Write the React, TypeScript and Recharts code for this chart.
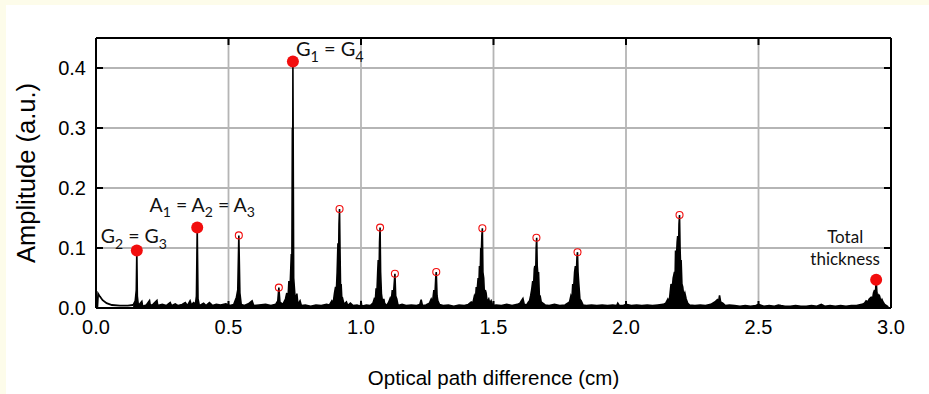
import React from 'react';
import { ComposedChart, Area, Line, Scatter, XAxis, YAxis, CartesianGrid } from 'recharts';

// ---------- data ----------
const xTicks = [0, 0.5, 1.0, 1.5, 2.0, 2.5, 3.0];
const yTicks = [0, 0.1, 0.2, 0.3, 0.4];

// spectrum: [optical path difference (cm), amplitude (a.u.)]
const traceStart: number[][] = [
  [0.005, 0.0], [0.008, 0.024], [0.015, 0.019], [0.025, 0.013], [0.04, 0.008], [0.06, 0.005],
  [0.09, 0.004], [0.12, 0.004], [0.14, 0.005],
];

const traceLow: number[][] = [
  [0.14, 0.005], [0.148, 0.012], [0.152, 0.03], [0.154, 0.096],
  [0.156, 0.02], [0.16, 0.004], [0.173, 0.011], [0.176, 0.003], [0.19, 0.005], [0.202, 0.0125],
  [0.205, 0.004], [0.215, 0.006], [0.23, 0.0125], [0.233, 0.004], [0.25, 0.006], [0.265, 0.004],
  [0.28, 0.009], [0.285, 0.004], [0.299, 0.007], [0.31, 0.004], [0.325, 0.006], [0.337, 0.009],
  [0.345, 0.004], [0.355, 0.012], [0.36, 0.005], [0.368, 0.009], [0.375, 0.006], [0.379, 0.02],
  [0.382, 0.134], [0.385, 0.015], [0.39, 0.004], [0.406, 0.008], [0.415, 0.004], [0.428, 0.009],
  [0.44, 0.004], [0.454, 0.006], [0.47, 0.005], [0.49, 0.007], [0.505, 0.004], [0.52, 0.006],
  [0.53, 0.018], [0.535, 0.03], [0.539, 0.121], [0.543, 0.025], [0.548, 0.006], [0.56, 0.004],
  [0.575, 0.007], [0.589, 0.012], [0.595, 0.004], [0.615, 0.005], [0.64, 0.006], [0.66, 0.004],
  [0.678, 0.006], [0.686, 0.012], [0.69, 0.034], [0.694, 0.01], [0.705, 0.006], [0.715, 0.015],
  [0.72, 0.025], [0.724, 0.012], [0.728, 0.045], [0.732, 0.03], [0.737, 0.09], [0.739, 0.06],
  [0.741, 0.3], [0.742, 0.15], [0.743, 0.411], [0.744, 0.29], [0.746, 0.05], [0.75, 0.025],
  [0.754, 0.01], [0.758, 0.024], [0.762, 0.006], [0.77, 0.012], [0.775, 0.004],
];

const traceMid: number[][] = [
  [0.79, 0.005], [0.81, 0.003], [0.83, 0.005], [0.85, 0.004], [0.87, 0.006], [0.881, 0.005],
  [0.89, 0.012], [0.895, 0.008], [0.9, 0.025], [0.904, 0.035], [0.907, 0.028], [0.91, 0.06],
  [0.913, 0.108], [0.915, 0.07], [0.917, 0.14], [0.919, 0.165], [0.921, 0.09], [0.923, 0.03],
  [0.925, 0.04], [0.928, 0.012], [0.931, 0.015], [0.936, 0.006], [0.945, 0.01], [0.95, 0.004],
  [0.96, 0.008], [0.97, 0.004], [0.985, 0.005], [0.998, 0.003], [1.0, 0.012], [1.003, 0.003],
  [1.02, 0.005], [1.035, 0.004], [1.045, 0.008], [1.05, 0.015], [1.054, 0.012], [1.057, 0.033],
  [1.06, 0.025], [1.063, 0.06], [1.065, 0.08], [1.068, 0.05], [1.07, 0.11], [1.072, 0.134],
  [1.074, 0.06], [1.077, 0.024], [1.082, 0.008], [1.086, 0.015], [1.089, 0.008], [1.097, 0.004],
  [1.105, 0.01], [1.11, 0.016], [1.114, 0.01], [1.118, 0.03], [1.122, 0.02], [1.126, 0.045],
  [1.128, 0.057], [1.131, 0.02], [1.135, 0.015], [1.14, 0.004], [1.155, 0.006], [1.17, 0.004],
  [1.19, 0.005], [1.21, 0.004], [1.222, 0.006], [1.227, 0.014], [1.232, 0.004], [1.245, 0.005],
  [1.258, 0.008], [1.265, 0.015], [1.27, 0.01], [1.275, 0.03], [1.279, 0.022], [1.282, 0.05],
  [1.284, 0.06], [1.287, 0.02], [1.29, 0.012], [1.296, 0.006], [1.31, 0.004], [1.33, 0.005],
  [1.35, 0.003],
];

const traceHigh: number[][] = [
  [1.37, 0.005], [1.39, 0.004], [1.405, 0.006], [1.416, 0.01], [1.422, 0.008], [1.428, 0.02],
  [1.432, 0.015], [1.435, 0.035], [1.438, 0.028], [1.442, 0.05], [1.445, 0.04], [1.447, 0.07],
  [1.45, 0.06], [1.452, 0.1], [1.454, 0.09], [1.456, 0.12], [1.458, 0.133], [1.46, 0.06],
  [1.463, 0.05], [1.466, 0.02], [1.469, 0.03], [1.472, 0.025], [1.476, 0.01], [1.482, 0.015],
  [1.486, 0.008], [1.491, 0.012], [1.497, 0.004], [1.51, 0.005], [1.53, 0.004], [1.55, 0.006],
  [1.57, 0.004], [1.59, 0.006], [1.6, 0.008], [1.605, 0.012], [1.611, 0.016], [1.616, 0.006],
  [1.625, 0.005], [1.632, 0.01], [1.636, 0.012], [1.64, 0.02], [1.644, 0.03], [1.648, 0.045],
  [1.651, 0.035], [1.654, 0.065], [1.656, 0.07], [1.659, 0.05], [1.661, 0.1], [1.663, 0.117],
  [1.665, 0.07], [1.668, 0.052], [1.67, 0.06], [1.673, 0.02], [1.676, 0.02], [1.68, 0.01],
  [1.686, 0.008], [1.695, 0.005], [1.71, 0.004], [1.73, 0.006], [1.75, 0.004], [1.77, 0.005],
  [1.78, 0.008], [1.787, 0.01], [1.792, 0.02], [1.796, 0.015], [1.799, 0.04], [1.802, 0.03],
  [1.806, 0.06], [1.809, 0.07], [1.812, 0.05], [1.815, 0.085], [1.817, 0.093], [1.819, 0.06],
  [1.822, 0.04], [1.826, 0.015], [1.831, 0.012], [1.838, 0.005], [1.85, 0.004], [1.87, 0.005],
  [1.89, 0.004], [1.91, 0.005], [1.93, 0.004], [1.95, 0.005],
];

const traceTail: number[][] = [
  [1.965, 0.004], [1.969, 0.008], [1.975, 0.004], [1.99, 0.004], [2.0, 0.006], [2.02, 0.004],
  [2.04, 0.005], [2.06, 0.004], [2.08, 0.005], [2.1, 0.004], [2.12, 0.005], [2.14, 0.006],
  [2.15, 0.008], [2.158, 0.015], [2.163, 0.01], [2.17, 0.04], [2.174, 0.03], [2.178, 0.05],
  [2.183, 0.06], [2.185, 0.045], [2.187, 0.096], [2.19, 0.08], [2.193, 0.11], [2.195, 0.12],
  [2.198, 0.09], [2.2, 0.14], [2.202, 0.155], [2.204, 0.1], [2.206, 0.07], [2.208, 0.08],
  [2.211, 0.04], [2.214, 0.035], [2.218, 0.02], [2.222, 0.025], [2.227, 0.015], [2.233, 0.008],
  [2.24, 0.005], [2.26, 0.004], [2.28, 0.005], [2.3, 0.004], [2.32, 0.006], [2.335, 0.01],
  [2.345, 0.014], [2.35, 0.012], [2.353, 0.021], [2.357, 0.01], [2.365, 0.008], [2.375, 0.004],
  [2.39, 0.005], [2.41, 0.004], [2.43, 0.003], [2.45, 0.004], [2.47, 0.003], [2.49, 0.004],
  [2.5, 0.006], [2.52, 0.003], [2.54, 0.004], [2.56, 0.003], [2.575, 0.005], [2.585, 0.004],
  [2.6, 0.003], [2.62, 0.003], [2.64, 0.004], [2.66, 0.003], [2.68, 0.003], [2.7, 0.004],
  [2.72, 0.003], [2.737, 0.006], [2.75, 0.003], [2.77, 0.004], [2.79, 0.003], [2.81, 0.004],
  [2.83, 0.003], [2.85, 0.004], [2.87, 0.004], [2.89, 0.006], [2.9, 0.008], [2.906, 0.012],
  [2.912, 0.01], [2.918, 0.015], [2.925, 0.018], [2.93, 0.014], [2.934, 0.025], [2.938, 0.03],
  [2.941, 0.022], [2.944, 0.046], [2.947, 0.025], [2.95, 0.018], [2.954, 0.022], [2.957, 0.02],
  [2.962, 0.01], [2.966, 0.014], [2.97, 0.01], [2.976, 0.006], [2.983, 0.004], [2.99, 0.002],
];

// labelled peaks (filled red dots)
const mainPeakX = [0.154, 0.382, 0.743, 2.944];
const mainPeakY = [0.096, 0.134, 0.411, 0.047];
const mainPeakLabels = ['G_2 = G_3', 'A_1 = A_2 = A_3', 'G_1 = G_4', 'Total|thickness'];

// other detected peaks (open red circles)
const otherPeakX = [0.539, 0.69, 0.919, 1.072, 1.128, 1.284, 1.458, 1.662, 1.817, 2.202];
const otherPeakY = [0.121, 0.034, 0.165, 0.134, 0.057, 0.06, 0.133, 0.117, 0.093, 0.155];

// ---------- derived tables ----------
const toPoints = (arr: number[][]) => arr.map(([x, y]) => ({ x, y }));
const startCurve = toPoints(traceStart);
const spectrum = toPoints([...traceLow, ...traceMid, ...traceHigh, ...traceTail]);
const mainPeaks = mainPeakX.map((x, i) => ({ x, y: mainPeakY[i], label: mainPeakLabels[i], idx: i }));
const otherPeaks = otherPeakX.map((x, i) => ({ x, y: otherPeakY[i] }));

// label placement relative to each marker (layout only)
const labelLayout = [
  { dx: -3, dy: -7, anchor: 'middle', size: 19.5 },
  { dx: 5, dy: -16, anchor: 'middle', size: 19.5 },
  { dx: 3, dy: -5, anchor: 'start', size: 20 },
  { dx: -31, dy: -37, anchor: 'middle', size: 17 },
];

const RED = '#f20d0d';
const ANNOT_FONT = 'Lato, "Open Sans", sans-serif';
const AXIS_FONT = '"Liberation Sans", Arial, sans-serif';

function richText(str: string, size: number) {
  const parts = str.split(/(_\d)/).filter((p) => p.length > 0);
  const out: React.ReactNode[] = [];
  let sub = false;
  parts.forEach((p, i) => {
    if (p.startsWith('_')) {
      out.push(
        <tspan key={i} dy={size * 0.28} fontSize={size * 0.72}>
          {p.slice(1)}
        </tspan>
      );
      sub = true;
    } else {
      out.push(
        <tspan key={i} dy={sub ? -size * 0.28 : 0} fontSize={size}>
          {p}
        </tspan>
      );
      sub = false;
    }
  });
  return out;
}

const MainMarker = (props: any) => {
  const { cx, cy, payload } = props;
  const lay = labelLayout[payload.idx];
  const lines: string[] = payload.label.split('|');
  return (
    <g>
      <circle cx={cx} cy={cy} r={6} fill={RED} />
      {lines.map((ln, li) => (
        <text
          key={li}
          x={cx + lay.dx}
          y={cy + lay.dy + li * 22}
          textAnchor={lay.anchor}
          fontFamily={ANNOT_FONT}
          fontSize={lay.size}
          fill="#111"
        >
          {richText(ln, lay.size)}
        </text>
      ))}
    </g>
  );
};

const OtherMarker = (props: any) => {
  const { cx, cy } = props;
  return <circle cx={cx} cy={cy} r={3.5} fill="none" stroke={RED} strokeWidth={1.1} />;
};

const NoTick = () => <g />;

export default function App() {
  const W = 929;
  const H = 394;
  return (
    <div style={{ position: 'fixed', left: 0, top: 0, width: W, height: H, background: '#fdfcea' }}>
      <div style={{ position: 'absolute', left: 6, top: 5, width: W - 6, height: H - 5, background: '#ffffff' }} />
      <div style={{ position: 'absolute', left: 0, top: 0 }}>
        <ComposedChart width={W} height={H} margin={{ top: 38, right: 38, left: 0, bottom: 0 }}>
          <CartesianGrid xAxisId="b" yAxisId="l" stroke="#b5b5b5" strokeWidth={1.8} />
          <XAxis
            xAxisId="b"
            dataKey="x"
            type="number"
            domain={[0, 3]}
            ticks={xTicks}
            allowDataOverflow
            height={86}
            tickLine={false}
            tickSize={0}
            tickMargin={12}
            axisLine={{ stroke: '#000', strokeWidth: 2 }}
            tickFormatter={(v: number) => v.toFixed(1)}
            tick={{ fill: '#000', fontSize: 20, fontFamily: AXIS_FONT }}
            label={{
              value: 'Optical path difference (cm)',
              position: 'insideBottom',
              offset: 9,
              style: { fill: '#000', fontSize: 20.5, fontFamily: AXIS_FONT },
            }}
          />
          <XAxis
            xAxisId="bm"
            dataKey="x"
            type="number"
            domain={[0, 3]}
            ticks={xTicks}
            allowDataOverflow
            orientation="bottom"
            mirror
            axisLine={false}
            tickLine={{ stroke: '#000', strokeWidth: 2 }}
            tickSize={7}
            tick={NoTick}
          />
          <XAxis
            xAxisId="t"
            dataKey="x"
            type="number"
            domain={[0, 3]}
            ticks={xTicks}
            allowDataOverflow
            orientation="top"
            mirror
            axisLine={{ stroke: '#000', strokeWidth: 2 }}
            tickLine={{ stroke: '#000', strokeWidth: 2 }}
            tickSize={7}
            tick={NoTick}
          />
          <YAxis
            yAxisId="l"
            type="number"
            domain={[0, 0.45]}
            ticks={yTicks}
            allowDataOverflow
            width={96}
            tickLine={false}
            tickSize={0}
            tickMargin={10}
            axisLine={{ stroke: '#000', strokeWidth: 2 }}
            tickFormatter={(v: number) => v.toFixed(1)}
            tick={{ fill: '#000', fontSize: 20, fontFamily: AXIS_FONT }}
            label={{
              value: 'Amplitude (a.u.)',
              angle: -90,
              position: 'insideLeft',
              offset: 26,
              style: { fill: '#000', fontSize: 25.5, fontFamily: AXIS_FONT, textAnchor: 'middle' },
            }}
          />
          <YAxis
            yAxisId="lm"
            type="number"
            domain={[0, 0.45]}
            ticks={yTicks}
            allowDataOverflow
            orientation="left"
            mirror
            axisLine={false}
            tickLine={{ stroke: '#000', strokeWidth: 2 }}
            tickSize={7}
            tick={NoTick}
          />
          <YAxis
            yAxisId="r"
            type="number"
            domain={[0, 0.45]}
            ticks={yTicks}
            allowDataOverflow
            orientation="right"
            mirror
            axisLine={{ stroke: '#000', strokeWidth: 2 }}
            tickLine={{ stroke: '#000', strokeWidth: 2 }}
            tickSize={7}
            tick={NoTick}
          />
          <Line
            xAxisId="b"
            yAxisId="l"
            data={startCurve}
            dataKey="y"
            type="linear"
            stroke="#000"
            strokeWidth={1.8}
            dot={false}
            activeDot={false}
            isAnimationActive={false}
          />
          <Area
            xAxisId="b"
            yAxisId="l"
            data={spectrum}
            dataKey="y"
            type="linear"
            stroke="#000"
            strokeWidth={1.6}
            fill="#000"
            fillOpacity={1}
            dot={false}
            activeDot={false}
            isAnimationActive={false}
          />
          <Scatter
            xAxisId="b"
            yAxisId="l"
            data={otherPeaks}
            dataKey="y"
            shape={OtherMarker}
            isAnimationActive={false}
          />
          <Scatter
            xAxisId="b"
            yAxisId="l"
            data={mainPeaks}
            dataKey="y"
            shape={MainMarker}
            isAnimationActive={false}
          />
        </ComposedChart>
      </div>
    </div>
  );
}
